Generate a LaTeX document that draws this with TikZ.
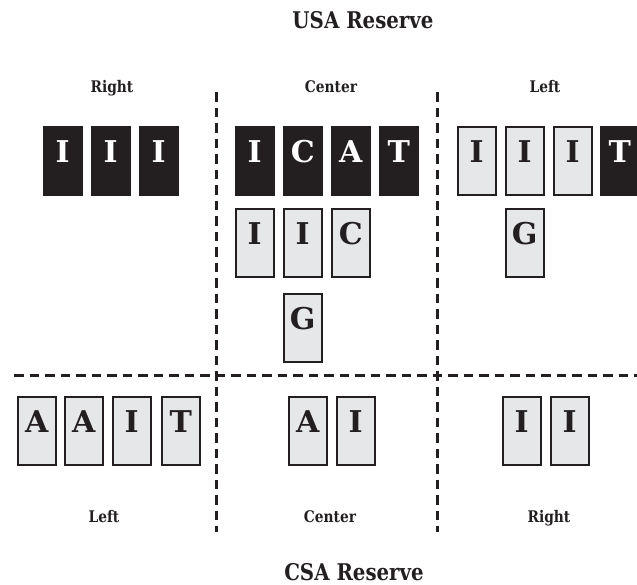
\documentclass[tikz,border=0pt]{standalone}
\usepackage{fontspec}
\setmainfont{DejaVu Serif}
\newfontfamily\headfont{DejaVu Serif}[FakeStretch=0.86]
\definecolor{ink}{HTML}{231F20}
\definecolor{paper}{HTML}{E6E7E8}

\tikzset{
  tile/.style={minimum width=38pt, minimum height=68pt, inner sep=0pt,
    anchor=north west, line width=1.5pt},
  darktile/.style={tile, fill=ink, draw=ink},
  lighttile/.style={tile, fill=paper, draw=ink},
  glyph/.style={font=\bfseries\fontsize{30}{30}\selectfont, anchor=base, inner sep=0pt},
  darkglyph/.style={glyph, text=white},
  lightglyph/.style={glyph, text=ink},
  title/.style={font=\headfont\bfseries\fontsize{23}{23}\selectfont, text=ink, anchor=base, inner sep=0pt},
  wing/.style={font=\headfont\bfseries\fontsize{16}{16}\selectfont, text=ink, anchor=base, inner sep=0pt},
  divider/.style={draw=ink, line width=3pt, dash pattern=on 9.5pt off 6pt}
}

% one unit card: name, left x, top y, letter, dark/light
\newcommand\tileat[5]{%
  \node[#5tile] (#1) at (#2,#3) {};
  \node[#5glyph] (#1l) at ([yshift=-36pt]#1.north) {#4};}

\begin{document}
\begin{tikzpicture}[x=1pt, y=-1pt]
\useasboundingbox (0,0) rectangle (637,584);

% headings
\node[title] (usa) at (363,28) {USA Reserve};
\node[title] (csa) at (354,580) {CSA Reserve};
\node[wing] (uright)  at (112,92) {Right};
\node[wing] (ucenter) at (331,92) {Center};
\node[wing] (uleft)   at (545,92) {Left};
\node[wing] (cleft)   at (104,522) {Left};
\node[wing] (ccenter) at (330,522) {Center};
\node[wing] (cright)  at (549,522) {Right};

% dividers
\coordinate (v1t) at (216,92);  \coordinate (v1b) at (216,532);
\coordinate (v2t) at (437,92);  \coordinate (v2b) at (437,532);
\coordinate (hl) at (14,375);   \coordinate (hr) at (637,375);
\draw[divider] (v1t) -- (v1b);
\draw[divider] (v2t) -- (v2b);
\draw[divider] (hl) -- (hr);

% USA right wing
\tileat{ur1}{43}{126}{I}{dark}
\tileat{ur2}{91}{126}{I}{dark}
\tileat{ur3}{139}{126}{I}{dark}

% USA center
\tileat{uc1}{235}{126}{I}{dark}
\tileat{uc2}{283}{126}{C}{dark}
\tileat{uc3}{331}{126}{A}{dark}
\tileat{uc4}{379}{126}{T}{dark}
\tileat{uc5}{235}{208}{I}{light}
\tileat{uc6}{283}{208}{I}{light}
\tileat{uc7}{331}{208}{C}{light}
\tileat{uc8}{283}{293}{G}{light}

% USA left wing
\tileat{ul1}{457}{126}{I}{light}
\tileat{ul2}{505}{126}{I}{light}
\tileat{ul3}{553}{126}{I}{light}
\tileat{ul4}{600}{126}{T}{dark}
\tileat{ul5}{505}{208}{G}{light}

% CSA left wing
\tileat{cl1}{17}{396}{A}{light}
\tileat{cl2}{64}{396}{A}{light}
\tileat{cl3}{112}{396}{I}{light}
\tileat{cl4}{161}{396}{T}{light}

% CSA center
\tileat{cc1}{288}{396}{A}{light}
\tileat{cc2}{336}{396}{I}{light}

% CSA right wing
\tileat{cr1}{502}{396}{I}{light}
\tileat{cr2}{550}{396}{I}{light}
\end{tikzpicture}
\end{document}
